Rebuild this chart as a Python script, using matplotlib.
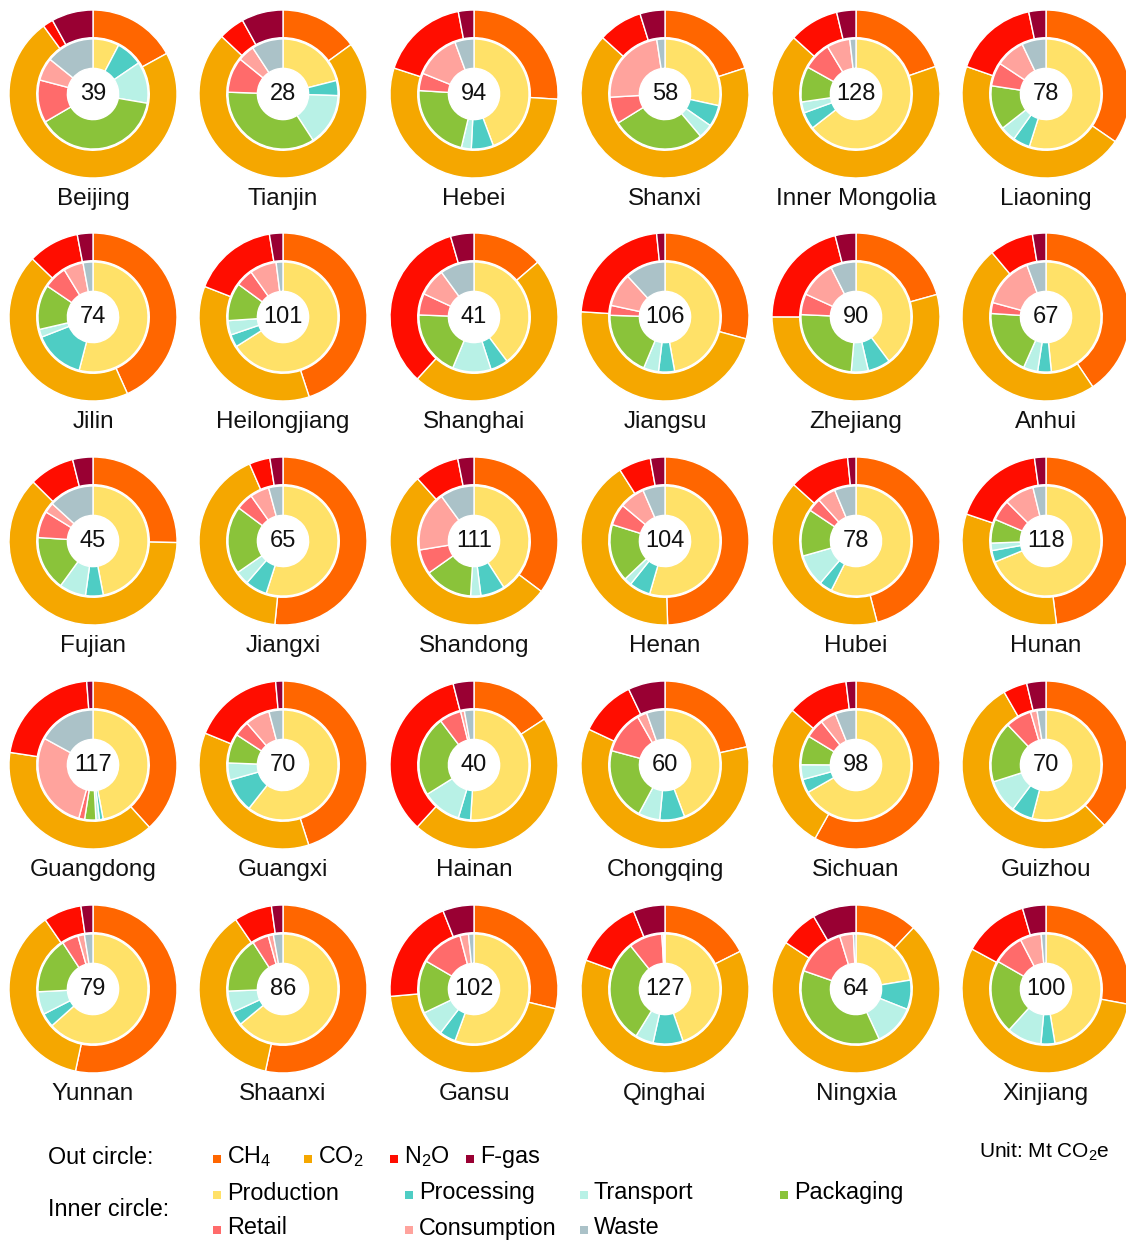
import numpy as np
import matplotlib
matplotlib.use("Agg")
from matplotlib import pyplot as plt

plt.rcParams['font.family'] = ['Liberation Sans', 'DejaVu Sans']
plt.rcParams['mathtext.fontset'] = 'custom'
plt.rcParams['mathtext.rm'] = 'Liberation Sans'

# provinces and total emissions (Mt CO2e)
provinces = ['Beijing', 'Tianjin', 'Hebei', 'Shanxi', 'Inner Mongolia', 'Liaoning',
             'Jilin', 'Heilongjiang', 'Shanghai', 'Jiangsu', 'Zhejiang', 'Anhui',
             'Fujian', 'Jiangxi', 'Shandong', 'Henan', 'Hubei', 'Hunan',
             'Guangdong', 'Guangxi', 'Hainan', 'Chongqing', 'Sichuan', 'Guizhou',
             'Yunnan', 'Shaanxi', 'Gansu', 'Qinghai', 'Ningxia', 'Xinjiang']
totals = [39, 28, 94, 58, 128, 78,
          74, 101, 41, 106, 90, 67,
          45, 65, 111, 104, 78, 118,
          117, 70, 40, 60, 98, 70,
          79, 86, 102, 127, 64, 100]

# outer circle: gas shares (%)
ch4 = [17, 15, 26, 20, 19.7, 34.6,
       43.2, 45, 13.7, 29.2, 20.7, 40.6,
       25.3, 51.5, 35.2, 49.5, 46, 48,
       38.3, 45, 15.8, 21.5, 58.1, 37.8,
       53.3, 53.3, 28.8, 17.6, 12, 27.9]
co2 = [73, 72, 54, 66.7, 67, 45.7,
       43.8, 36, 48.1, 46.8, 54.4, 48.3,
       62.1, 41.9, 53, 41.5, 40.8, 32.2,
       39.1, 36.1, 46, 60.4, 28.2, 54,
       37, 37.1, 44.8, 62.9, 72.3, 54.9]
n2o = [2, 5, 17, 8.5, 9.6, 16.4,
       9.8, 16.5, 33.7, 22.4, 21, 8.5,
       8.7, 4, 8.6, 6.2, 11.7, 17.6,
       21.4, 17.4, 34.2, 10.9, 11.8, 4.6,
       7.3, 7.3, 20.4, 13.3, 7.3, 12.6]
fgas = [8, 8, 3, 4.8, 3.7, 3.3,
        3, 2.6, 4.5, 1.6, 4, 2.6,
        3.9, 2.5, 3.1, 2.8, 1.6, 2.2,
        1.2, 1.4, 4, 7.1, 1.9, 3.7,
        2.3, 2.2, 6, 6.1, 8.4, 4.5]

# inner circle: life-cycle stage shares (%)
production = [7.7, 21, 44.3, 28.5, 64.4, 54.9,
              54, 65.9, 39.8, 47.2, 39.8, 48.5,
              47, 55, 40.9, 54.5, 57.4, 68.8,
              47, 60.6, 51, 44.2, 66.7, 54,
              63.4, 64, 55.6, 44.7, 22.4, 47.4]
processing = [7.8, 4.4, 6.5, 6.3, 5, 5,
              15, 3.7, 5.2, 4.7, 6.6, 4,
              5.2, 6.4, 7.1, 6.2, 3.8, 3.4,
              1.1, 10, 3.6, 7.3, 4, 6.2,
              4.1, 4.1, 4.8, 8.8, 8.6, 4.1]
transport = [12.2, 15.3, 2.9, 4.2, 3.2, 4.5,
             2.3, 4.2, 11.3, 4.4, 5, 4.2,
             7.8, 4, 3, 2.2, 9.4, 2.2,
             1, 5, 11.5, 6.3, 4.3, 9.8,
             6.7, 6.3, 7.5, 5.3, 12.1, 10.2]
packaging = [38.9, 34.6, 22.3, 27.4, 10.4, 13,
             13.1, 11.1, 19.3, 19.2, 24.3, 19.4,
             16, 19.9, 14.2, 16.9, 13.8, 7,
             3.3, 8.6, 23.6, 21.3, 8.6, 17.8,
             16.6, 16.5, 15.5, 30.5, 37.2, 21.6]
retail = [12.5, 10.3, 5.1, 7.9, 8.3, 6.9,
          6.8, 5.1, 6.3, 2.9, 6.1, 3.2,
          7.8, 5, 7.2, 6.3, 3.9, 6.1,
          1.7, 4.5, 6.4, 12.6, 5.6, 7.6,
          4.8, 4.8, 12.5, 9.8, 14.9, 9.1]
consumption = [6.7, 4.9, 13.3, 23.6, 6.8, 8.6,
               5.8, 7.8, 8.1, 9.8, 10.8, 15.2,
               3, 5.6, 17.6, 7.4, 5.4, 8.7,
               28.8, 7.2, 1.1, 2.8, 4.6, 1.9,
               1.9, 1.5, 2.5, 0.5, 4, 6.2]
waste = [14.2, 9.2, 5.6, 2.4, 1.8, 7.1,
         2.9, 2, 10, 11.8, 7.4, 5.6,
         13.2, 4.2, 10, 6.5, 6.3, 3.8,
         17, 4.1, 2.8, 5.4, 6.1, 2.6,
         2.5, 2.8, 1.6, 0.4, 0.75, 1.4]

gas_labels = [r'CH$_4$', r'CO$_2$', r'N$_2$O', 'F-gas']
gas_colors = ['#FF6600', '#F5A700', '#FF0D00', '#990033']
stage_labels = ['Production', 'Processing', 'Transport', 'Packaging',
                'Retail', 'Consumption', 'Waste']
stage_colors = ['#FFE168', '#4ECDC4', '#B8F1E6', '#8AC33A',
                '#FF6B6B', '#FFA39D', '#ABC2C8']

W, H = 1126, 1240
fig = plt.figure(figsize=(W / 100, H / 100), dpi=100)

col_x = [93, 283, 474, 665, 856, 1046]
row_y = [94, 317, 541, 765, 989]
R = 84      # outer radius in px
half = 95   # half size of each axes in px

gases = np.array([ch4, co2, n2o, fgas]).T
stages = np.array([production, processing, transport, packaging,
                   retail, consumption, waste]).T

for i, name in enumerate(provinces):
    cx = col_x[i % 6]
    cy = row_y[i // 6]
    ax = fig.add_axes([(cx - half) / W, 1 - (cy + half) / H, 2 * half / W, 2 * half / H])
    ax.pie(gases[i], radius=1.0, colors=gas_colors, startangle=90, counterclock=False,
           wedgeprops=dict(width=0.33, edgecolor='white', linewidth=1.0))
    ax.pie(stages[i], radius=0.655, colors=stage_colors, startangle=90, counterclock=False,
           wedgeprops=dict(width=0.35, edgecolor='white', linewidth=1.0))
    ax.text(0, 0, str(totals[i]), ha='center', va='center', fontsize=17, color='#111111')
    ax.text(0, -105 / R, name, ha='center', va='center', fontsize=17.5,
            color='#111111', clip_on=False)
    lim = half / R
    ax.set_xlim(-lim, lim)
    ax.set_ylim(-lim, lim)
    ax.axis('off')

# legend area drawn in pixel coordinates
lg = fig.add_axes([0, 0, 1, 1], zorder=-1)
lg.set_xlim(0, W)
lg.set_ylim(H, 0)
lg.axis('off')

fs = 16.8
lg.text(48, 1157, 'Out circle:', fontsize=fs, va='center', ha='left')
lg.text(48, 1210, 'Inner circle:', fontsize=fs, va='center', ha='left')
lg.text(1110, 1152, r'Unit: Mt CO$_2$e', fontsize=15, va='center', ha='right')

gas_x = [217, 308, 394, 470]
for x, lab, c in zip(gas_x, gas_labels, gas_colors):
    lg.scatter([x], [1159], marker='s', s=26, color=c, linewidths=0)
    lg.text(x + 10, 1157, lab, fontsize=fs, va='center', ha='left')

stage_x = [217, 409, 584, 784]
for k, (lab, c) in enumerate(zip(stage_labels, stage_colors)):
    x = stage_x[k % 4]
    y = 1193 if k < 4 else 1228
    lg.scatter([x], [y + 2], marker='s', s=26, color=c, linewidths=0)
    lg.text(x + 10, y, lab, fontsize=fs, va='center', ha='left')

fig.savefig('out.png', dpi=100)
